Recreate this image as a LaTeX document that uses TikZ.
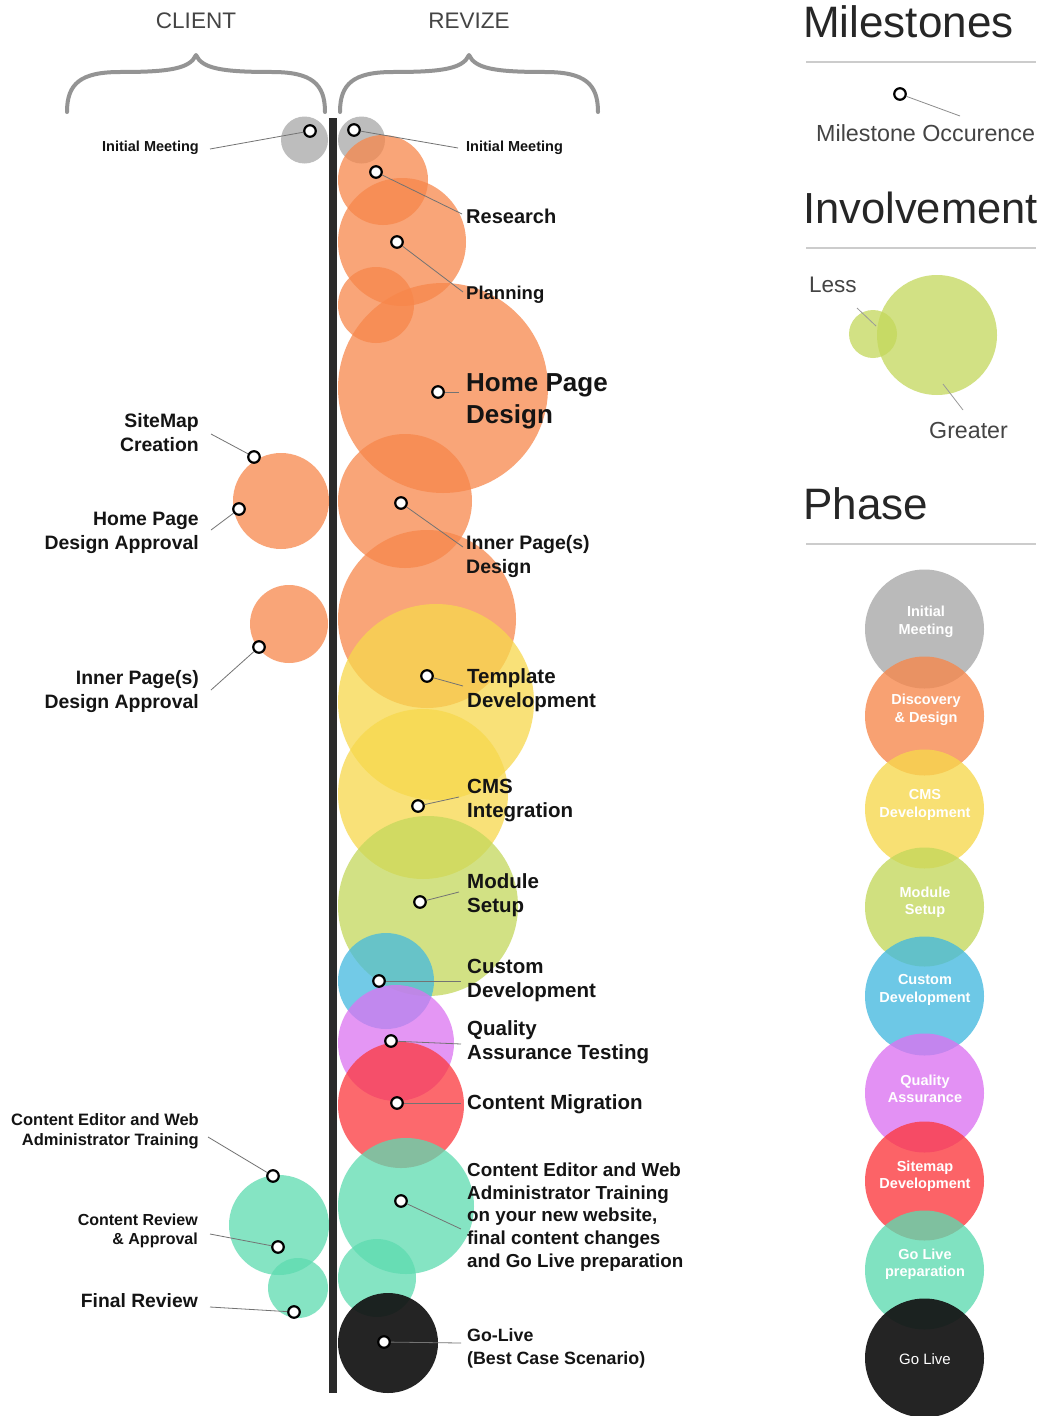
\documentclass[tikz,border=0pt]{standalone}
\usepackage{fontspec}
\setmainfont{Liberation Sans}
\definecolor{cGr}{HTML}{A7A7A7}
\definecolor{cOr}{HTML}{F7874B}
\definecolor{cYe}{HTML}{F7D84C}
\definecolor{cGn}{HTML}{C4D85B}
\definecolor{cBl}{HTML}{44B9DF}
\definecolor{cPk}{HTML}{DC73F1}
\definecolor{cRd}{HTML}{FC383D}
\definecolor{cTl}{HTML}{5DDBB0}
\definecolor{cBk}{HTML}{141414}
\definecolor{cTxt}{HTML}{444444}
\definecolor{cLine}{HTML}{CCCCCC}
\begin{document}
\begin{tikzpicture}[x=1pt,y=-1pt,
  bub/.style={circle, inner sep=0pt, outer sep=0pt, minimum size=#1, draw=none, fill opacity=0.75},
  ms/.style={circle, draw=black, fill=white, line width=2.2pt, minimum size=11.5pt, inner sep=0pt},
  lead/.style={draw=black!55, line width=0.8pt},
  rlab/.style={anchor=west, align=left, inner sep=0pt, text=black!92, font=\bfseries\fontsize{20.5}{24}\selectfont},
  llab/.style={anchor=east, align=right, inner sep=0pt, text=black!92, font=\bfseries\fontsize{19.4}{24}\selectfont},
  brace/.style={draw=black!42, line width=4pt, line cap=round, line join=round},
  head/.style={anchor=base west, inner sep=0pt, text=black!85, font=\fontsize{44}{44}\selectfont},
  legtxt/.style={inner sep=0pt, text=cTxt, font=\fontsize{22.5}{26}\selectfont},
  phase/.style={circle, inner sep=0pt, minimum size=119pt, draw=none, fill opacity=0.78},
  phtxt/.style={align=center, inner sep=0pt, text=white, font=\bfseries\fontsize{14.5}{17.5}\selectfont},
  sepline/.style={draw=cLine, line width=1.5pt}
]
\useasboundingbox (0,0) rectangle (1036,1416);
\fill[white] (0,0) rectangle (1036,1416);

% ---------- headers and braces ----------
\node[legtxt, text=cTxt] (client) at (196,21) {CLIENT};
\node[legtxt, text=cTxt] (revize) at (469,21) {REVIZE};
\draw[brace] (67,112) .. controls (67,84) and (80,72) .. (120,72)
  .. controls (168,72) and (190,69) .. (196,55)
  .. controls (202,69) and (224,72) .. (272,72)
  .. controls (312,72) and (325,84) .. (325,112);
\draw[brace] (340,112) .. controls (340,84) and (353,72) .. (393,72)
  .. controls (441,72) and (463,69) .. (469,55)
  .. controls (475,69) and (497,72) .. (545,72)
  .. controls (585,72) and (598,84) .. (598,112);

% ---------- right side bubbles ----------
\node[bub=47, fill=cGr] (rInit) at (361.5,140) {};
\node[bub=90, fill=cOr] (rResearch) at (383,180) {};
\node[bub=128, fill=cOr] (rPlanning) at (402,242) {};
\node[bub=76, fill=cOr] (rSmall) at (376,305) {};
\node[bub=210, fill=cOr] (rHome) at (443,388) {};
\node[bub=134, fill=cOr] (rInner) at (405,501) {};
\node[bub=178, fill=cOr] (rBigOr) at (427,619) {};
\node[bub=196, fill=cYe] (rTemplate) at (436,702) {};
\node[bub=170, fill=cYe] (rCMS) at (423,794) {};
\node[bub=180, fill=cGn] (rModule) at (428,906) {};
\node[bub=96, fill=cBl] (rCustom) at (386,981) {};
\node[bub=116, fill=cPk] (rQuality) at (396,1043) {};
\node[bub=126, fill=cRd] (rMigr) at (401,1105) {};
\node[bub=136, fill=cTl] (rTrain) at (406,1206) {};
\node[bub=78, fill=cTl] (rSmallTl) at (377,1278) {};
\node[bub=100, fill=cBk, fill opacity=0.93] (rGoLive) at (388,1343) {};

% ---------- left side bubbles ----------
\node[bub=47, fill=cGr] (lInit) at (304.5,140) {};
\node[bub=96, fill=cOr] (lHPA) at (281,501) {};
\node[bub=78, fill=cOr] (lIPA) at (289,624) {};
\node[bub=100, fill=cTl] (lTrain) at (279,1225) {};
\node[bub=60, fill=cTl] (lFinal) at (298,1288) {};

% ---------- timeline bar ----------
\fill[black!83] (329,118) rectangle (337,1393);

% ---------- right labels ----------
\node[rlab, font=\bfseries\fontsize{14.5}{18}\selectfont] (tRInit) at (466,148) {Initial Meeting};
\node[rlab, font=\bfseries\fontsize{20}{24}\selectfont] (tResearch) at (466,216) {Research};
\node[rlab, font=\bfseries\fontsize{18.5}{24}\selectfont] (tPlanning) at (466,295) {Planning};
\node[rlab, font=\bfseries\fontsize{26}{32}\selectfont] (tHome) at (466,401) {Home Page\\Design};
\node[rlab, font=\bfseries\fontsize{19.5}{24}\selectfont] (tInner) at (466,556) {Inner Page(s)\\Design};
\node[rlab] (tTemplate) at (467,690) {Template\\Development};
\node[rlab] (tCMS) at (467,801) {CMS\\Integration};
\node[rlab] (tModule) at (467,895) {Module\\Setup};
\node[rlab] (tCustom) at (467,980) {Custom\\Development};
\node[rlab] (tQuality) at (467,1042) {Quality\\Assurance Testing};
\node[rlab] (tMigr) at (467,1104) {Content Migration};
\node[rlab, font=\bfseries\fontsize{18.8}{22.75}\selectfont] (tTrain) at (467,1217) {Content Editor and Web\\Administrator Training\\on your new website,\\final content changes\\and Go Live preparation};
\node[rlab, font=\bfseries\fontsize{17.8}{23}\selectfont] (tGoLive) at (467,1348) {Go-Live\\(Best Case Scenario)};

% ---------- left labels ----------
\node[llab, font=\bfseries\fontsize{14.5}{18}\selectfont] (tLInit) at (199,148) {Initial Meeting};
\node[llab] (tSiteMap) at (199,433) {SiteMap\\Creation};
\node[llab] (tHPA) at (199,533) {Home Page\\Design Approval};
\node[llab] (tIPA) at (199,692) {Inner Page(s)\\Design Approval};
\node[llab, font=\bfseries\fontsize{16.5}{20}\selectfont] (tLTrain) at (199,1131) {Content Editor and Web\\Administrator Training};
\node[llab, font=\bfseries\fontsize{16}{19}\selectfont] (tReview) at (198,1231) {Content Review\\\& Approval};
\node[llab, font=\bfseries\fontsize{19.3}{24}\selectfont] (tFinal) at (198,1301) {Final Review};

% ---------- leader end points ----------
\coordinate (eRInit) at (458,148);
\coordinate (eResearch) at (462,214);
\coordinate (ePlanning) at (463,292);
\coordinate (eHome) at (459,392);
\coordinate (eInner) at (463,547);
\coordinate (eTemplate) at (463,686);
\coordinate (eCMS) at (459,797);
\coordinate (eModule) at (459,892);
\coordinate (eCustom) at (461,981);
\coordinate (eQuality) at (461,1044);
\coordinate (eMigr) at (461,1103);
\coordinate (eTrain) at (461,1229);
\coordinate (eGoLive) at (461,1343);
\coordinate (eLInit) at (210,149);
\coordinate (eSiteMap) at (211,434);
\coordinate (eHPA) at (211,530);
\coordinate (eIPA) at (211,690);
\coordinate (eLTrain) at (208,1137);
\coordinate (eReview) at (210,1234);
\coordinate (eFinal) at (210,1307);

% ---------- milestone dots ----------
\node[ms] (dRInit) at (354,130) {};
\node[ms] (dResearch) at (376,172) {};
\node[ms] (dPlanning) at (397,242) {};
\node[ms] (dHome) at (438,392) {};
\node[ms] (dInner) at (401,503) {};
\node[ms] (dTemplate) at (427,676) {};
\node[ms] (dCMS) at (418,806) {};
\node[ms] (dModule) at (420,902) {};
\node[ms] (dCustom) at (379,981) {};
\node[ms] (dQuality) at (391,1041) {};
\node[ms] (dMigr) at (397,1103) {};
\node[ms] (dTrain) at (401,1201) {};
\node[ms] (dGoLive) at (384,1342) {};
\node[ms] (dLInit) at (310,131) {};
\node[ms] (dSiteMap) at (254,457) {};
\node[ms] (dHPA) at (239,509) {};
\node[ms] (dIPA) at (259,647) {};
\node[ms] (dLTrain) at (273,1176) {};
\node[ms] (dReview) at (278,1247) {};
\node[ms] (dFinal) at (294,1312) {};

% ---------- leaders ----------
\foreach \n in {RInit,Research,Planning,Home,Inner,Template,CMS,Module,Custom,Quality,Migr,Train,GoLive,LInit,SiteMap,HPA,IPA,LTrain,Review,Final}
  \draw[lead] (d\n) -- (e\n);

% ---------- legend: milestones ----------
\node[head] (hMile) at (803,37) {Milestones};
\draw[sepline] (806,62) -- (1036,62);
\node[ms] (dLeg) at (900,94) {};
\coordinate (eLeg) at (960,116);
\draw[lead, draw=black!45] (dLeg) -- (eLeg);
\node[legtxt, anchor=base west, font=\fontsize{23.3}{26}\selectfont] (tLeg) at (816,141) {Milestone Occurence};

% ---------- legend: involvement ----------
\node[head, font=\fontsize{43.5}{44}\selectfont] (hInv) at (803,223) {Involvement};
\draw[sepline] (806,248) -- (1036,248);
\node[bub=120, fill=cGn] (gGreater) at (937,335) {};
\node[bub=48, fill=cGn] (gLess) at (873,334) {};
\node[legtxt, anchor=base west] (tLess) at (809,292) {Less};
\node[legtxt, anchor=base west, font=\fontsize{23.2}{26}\selectfont] (tGreater) at (929,438) {Greater};
\coordinate (sLess) at (857,308);
\coordinate (eLess) at (876,326);
\coordinate (sGreater) at (943,384);
\coordinate (eGreater) at (963,410);
\draw[lead, draw=black!40] (sLess) -- (eLess);
\draw[lead, draw=black!40] (sGreater) -- (eGreater);

% ---------- legend: phase ----------
\node[head] (hPhase) at (803,519) {Phase};
\draw[sepline] (806,544) -- (1036,544);
\node[phase, fill=cGr] (p1) at (924.5,629) {};
\node[phase, fill=cOr] (p2) at (924.5,716) {};
\node[phase, fill=cYe] (p3) at (924.5,809) {};
\node[phase, fill=cGn] (p4) at (924.5,907) {};
\node[phase, fill=cBl] (p5) at (924.5,996) {};
\node[phase, fill=cPk] (p6) at (924.5,1093) {};
\node[phase, fill=cRd] (p7) at (924.5,1181) {};
\node[phase, fill=cTl] (p8) at (924.5,1270) {};
\node[phase, fill=cBk, fill opacity=0.93] (p9) at (924.5,1358) {};
\node[phtxt] (q1) at (926,622) {Initial\\Meeting};
\node[phtxt] (q2) at (926,710) {Discovery\\\& Design};
\node[phtxt] (q3) at (925,805) {CMS\\Development};
\node[phtxt] (q4) at (925,902) {Module\\Setup};
\node[phtxt] (q5) at (925,990) {Custom\\Development};
\node[phtxt] (q6) at (925,1089) {Quality\\Assurance};
\node[phtxt] (q7) at (925,1176) {Sitemap\\Development};
\node[phtxt] (q8) at (925,1264) {Go Live\\preparation};
\node[phtxt, font=\fontsize{15}{17.5}\selectfont] (q9) at (925,1359) {Go Live};
\end{tikzpicture}
\end{document}
